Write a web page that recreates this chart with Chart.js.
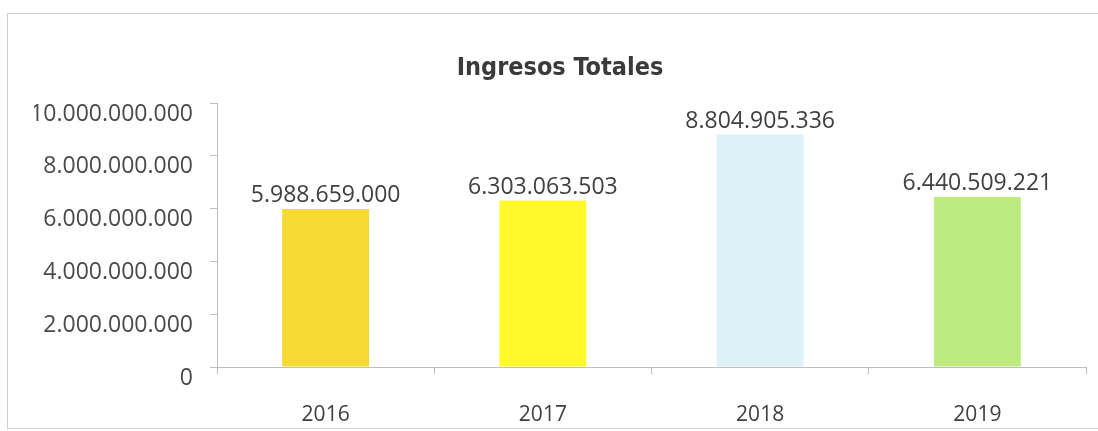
<!DOCTYPE html>
<html>
<head>
<meta charset="utf-8">
<script src="https://cdn.jsdelivr.net/npm/chart.js@4.4.0/dist/chart.umd.min.js"></script>
<style>
  html, body { margin: 0; padding: 0; background: #ffffff; }
  #wrap { position: relative; width: 1098px; height: 431px; overflow: hidden; }
  #frame { position: absolute; left: 7px; top: 13px; width: 1200px; height: 414px; border: 1px solid #cfcfcf; }
  #c { position: absolute; left: 0; top: 0; }
</style>
</head>
<body>
<div id="wrap">
  <div id="frame"></div>
  <canvas id="c" width="1098" height="431"></canvas>
</div>
<script>
const categories = ['2016', '2017', '2018', '2019'];
const ingresos = [5988659000, 6303063503, 8804905336, 6440509221];
const barColors = ['#F4DA33', '#FFF82A', '#DDF1F8', '#BEEB80'];
const yTickValues = [0, 2000000000, 4000000000, 6000000000, 8000000000, 10000000000];
const titleText = 'Ingresos Totales';

function fmt(v) {
  return String(Math.round(v)).replace(/\B(?=(\d{3})+(?!\d))/g, '.');
}

const valueLabels = {
  id: 'valueLabels',
  afterDatasetsDraw(chart) {
    const ctx = chart.ctx;
    const meta = chart.getDatasetMeta(0);
    ctx.save();
    ctx.font = '23px "Open Sans"';
    ctx.fillStyle = '#404040';
    ctx.textAlign = 'center';
    ctx.textBaseline = 'alphabetic';
    meta.data.forEach((bar, i) => {
      ctx.fillText(fmt(chart.data.datasets[0].data[i]), bar.x, bar.y - 7);
    });
    ctx.restore();
  }
};

new Chart(document.getElementById('c'), {
  type: 'bar',
  data: {
    labels: categories,
    datasets: [{
      data: ingresos,
      backgroundColor: barColors,
      borderWidth: 0,
      barPercentage: 0.4,
      categoryPercentage: 1.0
    }]
  },
  options: {
    responsive: false,
    animation: false,
    devicePixelRatio: 1,
    layout: { padding: { left: 34, right: 12, top: 0, bottom: 0 } },
    plugins: {
      legend: { display: false },
      tooltip: { enabled: false },
      title: {
        display: true,
        text: titleText,
        color: '#3a3a3a',
        font: { family: '"DejaVu Sans Condensed", "DejaVu Sans", sans-serif', size: 25, weight: 'bold', lineHeight: 1.2 },
        padding: { top: 53, bottom: 20 }
      }
    },
    scales: {
      x: {
        grid: { display: true, drawOnChartArea: false, offset: true, tickLength: 7, color: '#bfbfbf', lineWidth: 1 },
        border: { display: true, color: '#bfbfbf', width: 1 },
        ticks: { color: '#404040', font: { family: '"Open Sans"', size: 21 }, padding: 28 },
        afterFit: s => { s.height = 64; }
      },
      y: {
        min: 0,
        max: 10000000000,
        afterBuildTicks: s => { s.ticks = yTickValues.map(v => ({ value: v })); },
        grid: { display: true, drawOnChartArea: false, tickLength: 7, color: '#bfbfbf', lineWidth: 1 },
        border: { display: true, color: '#bfbfbf', width: 1 },
        ticks: { color: '#4a4a4a', font: { family: '"Open Sans"', size: 23 }, padding: 17, labelOffset: 11, callback: v => fmt(v) },
        afterFit: s => { s.width = 183; }
      }
    }
  },
  plugins: [valueLabels]
});
</script>
</body>
</html>
